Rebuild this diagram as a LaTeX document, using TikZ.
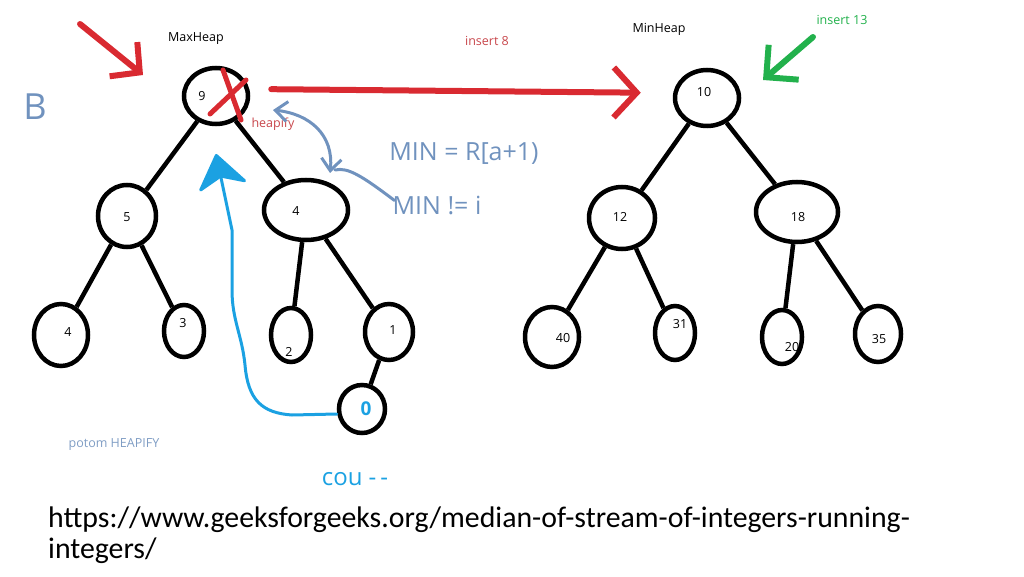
\documentclass[tikz,border=0pt]{standalone}
\usepackage{fontspec}
\setmainfont{Open Sans}
\newfontfamily\urlfont{Carlito}
\definecolor{PaintRed}{HTML}{D92A31}
\definecolor{NoteRed}{HTML}{C8474C}
\definecolor{PaintGreen}{HTML}{22B14C}
\definecolor{PaintGray}{HTML}{7092BE}
\definecolor{NoteGray}{HTML}{7F9DC4}
\definecolor{PaintCyan}{HTML}{1BA1E2}
\usetikzlibrary{arrows.meta,shapes.geometric}

\begin{document}
\begin{tikzpicture}[x=1pt,y=-1pt,
  heap/.style={ellipse,draw,line width=4.5pt,inner sep=0pt},
  num/.style={font=\fontsize{12.5}{14}\selectfont},
  edge/.style={line width=4.5pt},
  note/.style={font=\fontsize{12.5}{14}\selectfont},
  hand/.style={font=\fontsize{#1}{#1}\selectfont,inner sep=0pt},
  redpen/.style={PaintRed,line width=6pt,line cap=round},
  greenpen/.style={PaintGreen,line width=6pt,line cap=round},
  graypen/.style={PaintGray,line width=3pt,line cap=round},
  cyanpen/.style={PaintCyan,line width=3pt,line cap=round}]
  \useasboundingbox (0,0) rectangle (1024,577);
  \foreach \nm/\px/\py/\ww/\hh/\lab/\dx/\dy in {
    n9/216/96/64/56/9/-14/0, n5/127/216/58/62/5/0/-1, n4r/306/210/84/60/4/-10/-1,
    n4l/61/335/54/62/4/7/3, n3/184/331/40/52/3/-1/8, n2/291/335/40/54/2/-2/-17,
    n1/389/332/48/56/1/4/2,
    n10/707/98/64/56/10/-3/6, n12/622/218/66/62/12/-2/1, n18/797/212/82/60/18/1/-5,
    n40/552/337/54/60/40/11/-1, n31/675/333/40/54/31/5/9, n20/782/337/40/54/20/10/-10,
    n35/878/334/46/56/35/1/-5}
    \node[heap,minimum width=\ww pt,minimum height=\hh pt,
      label={[num,xshift=\dx pt,yshift=\dy pt]center:\lab}] (\nm) at (\px,\py) {};
  \node[heap,minimum width=46pt,minimum height=48pt,
    label={[PaintCyan,font=\bfseries\fontsize{19}{19}\selectfont,xshift=4pt]center:0}] (n0) at (362,409) {};
  \foreach \a/\b in {n9/n5,n9/n4r,n5/n4l,n5/n3,n4r/n2,n4r/n1,n1/n0,
    n10/n12,n10/n18,n12/n40,n12/n31,n18/n20,n18/n35}
    \draw[edge] (\a) -- (\b);

  \node[note] (maxh) at (196,39) {MaxHeap};
  \node[note] (minh) at (659,29) {MinHeap};
  \node[note,NoteRed] (ins8) at (487,41) {insert 8};
  \node[note,PaintGreen] (ins13) at (842,20) {insert 13};
  \node[note,NoteRed] (heapify) at (273,124) {heapify};
  \node[note,NoteGray] (potom) at (114,445) {potom HEAPIFY};
  \node[hand=25,PaintGray] (minR) at (464,154) {MIN = R[a+1)};
  \node[hand=25,PaintGray] (minne) at (437,206) {MIN != i};
  \node[hand=24,PaintCyan] (cou) at (355,479) {cou -{}\,-};
  \node[hand=36,PaintGray] (bscr) at (35,107) {B};
  \node[anchor=base west,inner sep=0pt,font=\urlfont\fontsize{29.8}{31}\selectfont] (url1) at (48,527)
    {https://www.geeksforgeeks.org/median-of-stream-of-integers-running-};
  \node[anchor=base west,inner sep=0pt,font=\urlfont\fontsize{29.8}{31}\selectfont] (url2) at (48,558)
    {integers/};

  \coordinate (r1s) at (80,24);
  \coordinate (r1e) at (143,75);
  \draw[redpen,-{Straight Barb[length=21pt,width=44pt]}] (r1s) -- (r1e);
  \draw[redpen,shorten <=21pt,shorten >=32pt,-{Straight Barb[length=23pt,width=50pt]}]
    ([yshift=7pt]n9.east) -- ([yshift=5pt]n10.west);
  \draw[redpen,line width=5pt] (223,70) -- (241,120);
  \draw[redpen,line width=5pt] (210,114) -- (246,80);
  \coordinate (g1s) at (813,37);
  \coordinate (g1e) at (763,80);
  \draw[greenpen,-{Straight Barb[length=23pt,width=46pt]}] (g1s) -- (g1e);

  \coordinate (hl) at (273,110);
  \coordinate (hb) at (330,173);
  \draw[graypen,{Straight Barb[length=12pt,width=20pt]}-{Straight Barb[length=12pt,width=20pt]}]
    (hl) .. controls (310,114) and (334,135) .. (hb);
  \draw[graypen] ([xshift=2pt,yshift=-4pt]minne.north west) .. controls (362,176) and (348,167) .. (335,170);

  \coordinate (cyt) at (216,154);
  \draw[cyanpen,-{Stealth[length=26pt,width=38pt,inset=8pt,round,scale=1.4]}]
    ([yshift=-5pt]n0.west) -- (292,415) .. controls (262,413) and (248,400) .. (245,365)
    .. controls (242,335) and (232,320) .. (232,290) -- (232,230) -- (cyt);
\end{tikzpicture}
\end{document}
